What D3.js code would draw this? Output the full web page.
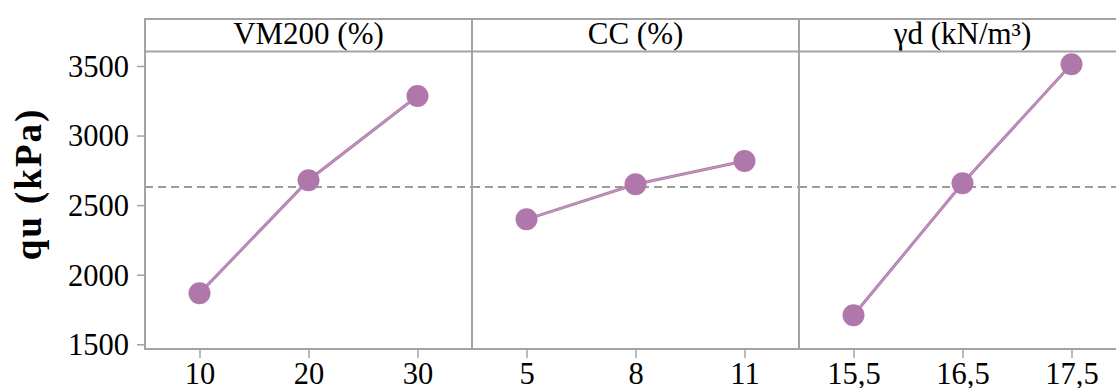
<!DOCTYPE html>
<html>
<head>
<meta charset="utf-8">
<script src="https://cdn.jsdelivr.net/npm/d3@7"></script>
<style>
  html, body { margin: 0; padding: 0; background: #fff; }
  svg { display: block; font-family: "Liberation Serif", "Times New Roman", serif; }
</style>
</head>
<body>
<svg id="chart" width="1116" height="388"></svg>
<script>
// Main effects of each factor on unconfined compressive strength
const factors = ["VM200 (%)", "CC (%)", "γd (kN/m³)"];
const levelsVM = ["10", "20", "30"];
const levelsCC = ["5", "8", "11"];
const levelsGd = ["15,5", "16,5", "17,5"];
const meansVM = [1866, 2679, 3284];
const meansCC = [2398, 2650, 2817];
const meansGd = [1708, 2657, 3512];
const grandMean = 2630;
const yTicks = [1500, 2000, 2500, 3000, 3500];

const panels = [
  { title: factors[0], levels: levelsVM, means: meansVM },
  { title: factors[1], levels: levelsCC, means: meansCC },
  { title: factors[2], levels: levelsGd, means: meansGd }
];

const svg = d3.select("#chart");
const frameColor = "#a3a3a3";
const markColor = "#b077ab";
const serif = "Liberation Serif, serif";

const plotLeft = 145, panelW = 327;
const plotTop = 19, stripBottom = 51.5, plotBottom = 349;

const y = d3.scaleLinear().domain([1466, 3604]).range([plotBottom, stripBottom]);

// y axis
const yAxis = svg.append("g")
  .attr("transform", `translate(${plotLeft},0)`)
  .call(d3.axisLeft(y).tickValues(yTicks).tickSize(8).tickPadding(8).tickFormat(d3.format("d")));
yAxis.select(".domain").remove();
yAxis.selectAll(".tick line").attr("stroke", frameColor).attr("stroke-width", 1.5);
yAxis.selectAll(".tick text").attr("font-size", 30.5).attr("fill", "#000")
  .attr("font-family", serif).attr("dy", "0.34em");

// y axis title
svg.append("text")
  .attr("transform", `translate(41,${(plotTop + plotBottom) / 2}) rotate(-90)`)
  .attr("text-anchor", "middle")
  .attr("font-size", 37)
  .attr("font-weight", "bold")
  .attr("letter-spacing", 2)
  .attr("fill", "#000")
  .text("qu (kPa)");

panels.forEach((p, i) => {
  const x0 = plotLeft + i * panelW;
  const x = d3.scalePoint().domain(p.levels).range([x0, x0 + panelW]).padding(0.5);
  const g = svg.append("g");

  // grand mean reference
  g.append("line")
    .attr("x1", x0).attr("x2", Math.min(x0 + panelW, 1116))
    .attr("y1", y(grandMean)).attr("y2", y(grandMean))
    .attr("stroke", "#9b9b9b").attr("stroke-width", 2)
    .attr("stroke-dasharray", "8,5");

  // x axis
  const xAxis = g.append("g")
    .attr("transform", `translate(0,${plotBottom})`)
    .call(d3.axisBottom(x).tickSize(9).tickPadding(4));
  xAxis.select(".domain").remove();
  xAxis.selectAll(".tick line").attr("stroke", frameColor).attr("stroke-width", 1.5);
  xAxis.selectAll(".tick text").attr("font-size", 30.5).attr("fill", "#000")
    .attr("font-family", serif);

  // mean line and points
  const pts = p.levels.map((l, k) => [x(l), y(p.means[k])]);
  const line = d3.line();
  g.append("path").attr("d", line(pts)).attr("fill", "none")
    .attr("stroke", "#b27ead").attr("stroke-width", 3);
  g.append("path").attr("d", line(pts)).attr("fill", "none")
    .attr("stroke", "#c7a0c4").attr("stroke-width", 0.9);
  g.selectAll("circle").data(pts).join("circle")
    .attr("cx", d => d[0]).attr("cy", d => d[1]).attr("r", 11)
    .attr("fill", markColor);

  // strip title
  g.append("text")
    .attr("x", x0 + panelW / 2).attr("y", 44)
    .attr("text-anchor", "middle").attr("font-size", 31).attr("fill", "#000")
    .text(p.title);

  // panel borders
  g.append("line").attr("x1", x0).attr("x2", x0).attr("y1", plotTop).attr("y2", plotBottom)
    .attr("stroke", frameColor).attr("stroke-width", 2);
});

// horizontal frame lines
[plotTop, stripBottom, plotBottom].forEach(v => {
  svg.append("line").attr("x1", plotLeft - 1).attr("x2", 1116).attr("y1", v).attr("y2", v)
    .attr("stroke", frameColor).attr("stroke-width", 2);
});
</script>
</body>
</html>
